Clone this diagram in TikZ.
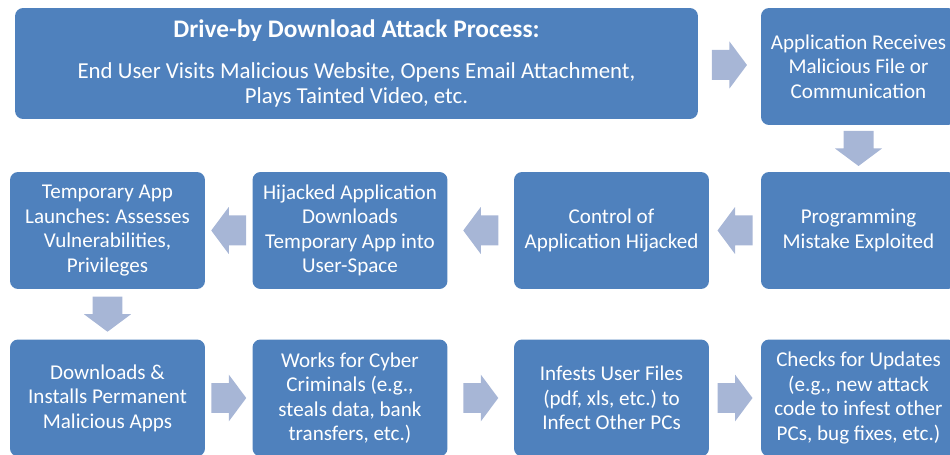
\documentclass[tikz,border=0pt]{standalone}
\usepackage{fontspec}
\setmainfont{Carlito}
\usetikzlibrary{positioning, calc}

\definecolor{boxblue}{RGB}{79,129,189}
\definecolor{arrowblue}{RGB}{167,182,214}

\begin{document}
\frenchspacing
\begin{tikzpicture}[x=0.02cm, y=-0.02cm,
    stepbox/.style={rectangle, rounded corners=0.16cm, fill=boxblue, text=white, align=center,
        inner sep=0pt, minimum width=3.9cm, minimum height=2.34cm, font=\fontsize{12}{13.9}\selectfont},
    pics/blockarrow/.style={code={
        \fill[arrowblue] (-0.35cm,-0.3cm) -- (0cm,-0.3cm) -- (0cm,-0.47cm) -- (0.35cm,0cm)
            -- (0cm,0.47cm) -- (0cm,0.3cm) -- (-0.35cm,0.3cm) -- cycle;}}]
\useasboundingbox (0,0) rectangle (950,455);
\clip (0,0) rectangle (950,455);

% row 1
\node[stepbox, minimum width=13.66cm, minimum height=2.22cm, font=\fontsize{13}{14.3}\selectfont] (visit) at (356.5,63.5)
    {{\fontsize{14.4}{17}\selectfont\bfseries Drive-by Download Attack Process:}\\[9pt]
     End User Visits Malicious Website, Opens Email Attachment,\\ Plays Tainted Video, etc.};
\node[stepbox] (receive) at (858.5,66.5) {Application Receives\\ Malicious File or\\ Communication};

% row 2
\node[stepbox] (launch) at (107.5,230.5) {Temporary App\\ Launches: Assesses\\ Vulnerabilities,\\ Privileges};
\node[stepbox] (download) at (350,230.5) {Hijacked Application\\ Downloads\\ Temporary App into\\ User-Space};
\node[stepbox] (hijack) at (611.5,230.5) {Control of\\ Application Hijacked};
\node[stepbox] (exploit) at (858.5,230.5) {Programming\\ Mistake Exploited};

% row 3
\node[stepbox] (install) at (107.5,398) {Downloads \&\\ Installs Permanent\\ Malicious Apps};
\node[stepbox] (works) at (350,398) {Works for Cyber\\ Criminals (e.g.,\\ steals data, bank\\ transfers, etc.)};
\node[stepbox] (infest) at (611.5,398) {Infests User Files\\ (pdf, xls, etc.) to\\ Infect Other PCs};
\node[stepbox] (update) at (858.5,398) {Checks for Updates\\ (e.g., new attack\\ code to infest other\\ PCs, bug fixes, etc.)};

% arrows
\pic at ($(visit.east)!0.5!(receive.west)$) {blockarrow};
\pic[rotate=-90] at ($(receive.south)!0.5!(exploit.north)$) {blockarrow};
\pic[rotate=180] at ($(exploit.west)!0.5!(hijack.east)$) {blockarrow};
\pic[rotate=180] at ($(hijack.west)!0.5!(download.east)$) {blockarrow};
\pic[rotate=180] at ($(download.west)!0.5!(launch.east)$) {blockarrow};
\pic[rotate=-90] at ($(launch.south)!0.5!(install.north)$) {blockarrow};
\pic at ($(install.east)!0.5!(works.west)$) {blockarrow};
\pic at ($(works.east)!0.5!(infest.west)$) {blockarrow};
\pic at ($(infest.east)!0.5!(update.west)$) {blockarrow};

\end{tikzpicture}
\end{document}
